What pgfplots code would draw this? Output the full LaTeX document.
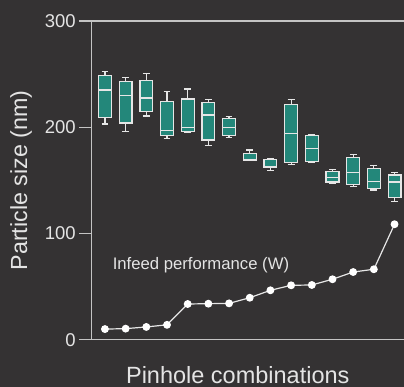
\documentclass[border=0pt]{standalone}
\usepackage{fontspec}
\setmainfont{Liberation Sans}
\usepackage{pgfplots}
\pgfplotsset{compat=1.18}
\usepgfplotslibrary{statistics}
\definecolor{bg}{HTML}{343233}
\definecolor{axc}{HTML}{C4C4C4}
\definecolor{txt}{HTML}{E4E4E4}
\definecolor{tealf}{HTML}{23877A}
\definecolor{boxl}{HTML}{E6E6E6}
\begin{document}
\begin{tikzpicture}
\fill[bg] (-91.3pt,-47.3pt) rectangle (312.7pt,339.7pt);
\useasboundingbox (-91.3pt,-47.3pt) rectangle (312.7pt,339.7pt);
\begin{axis}[
  scale only axis,
  width=320pt, height=318.7pt,
  xmin=0.34, xmax=15.81,
  ymin=0, ymax=300,
  ytick={0,100,200,300},
  xtick=\empty,
  tick align=outside,
  ytick pos=left,
  major tick length=12pt,
  axis line style={axc, line width=1.3pt},
  every tick/.style={axc, line width=1.3pt},
  /pgf/number format/assume math mode=true,
  yticklabel style={font=\fontsize{18.5}{20}\selectfont, text=txt},
  ylabel={Particle size (nm)},
  ylabel style={at={(axis description cs:0,0.5)}, anchor=center, yshift=70.3pt, font=\fontsize{23.3}{25}\selectfont, text=txt},
  xlabel={Pinhole combinations},
  xlabel style={at={(axis description cs:0.4578,0)}, anchor=base, yshift=-43.8pt, font=\fontsize{23.5}{25}\selectfont, text=txt},
  clip=false,
  boxplot/draw direction=y,
  every boxplot/.style={},
]
\pgfplotsset{mybox/.style={solid, draw=boxl, line width=1.2pt, fill=tealf, mark=none}}
\addplot+[mybox, boxplot prepared={draw position=1, lower whisker=203, lower quartile=209.5, median=235, upper quartile=249, upper whisker=252.5, box extend=0.62, whisker extend=0.33}] coordinates {};
\addplot+[mybox, boxplot prepared={draw position=2, lower whisker=196, lower quartile=204, median=230, upper quartile=243, upper whisker=247, box extend=0.62, whisker extend=0.33}] coordinates {};
\addplot+[mybox, boxplot prepared={draw position=3, lower whisker=210.5, lower quartile=215, median=227.5, upper quartile=244, upper whisker=250.5, box extend=0.62, whisker extend=0.33}] coordinates {};
\addplot+[mybox, boxplot prepared={draw position=4, lower whisker=189.5, lower quartile=192, median=197, upper quartile=224.5, upper whisker=234, box extend=0.62, whisker extend=0.33}] coordinates {};
\addplot+[mybox, boxplot prepared={draw position=5, lower whisker=195.5, lower quartile=196, median=199.5, upper quartile=226.5, upper whisker=236, box extend=0.62, whisker extend=0.33}] coordinates {};
\addplot+[mybox, boxplot prepared={draw position=6, lower whisker=183, lower quartile=188, median=211.5, upper quartile=223.5, upper whisker=226, box extend=0.62, whisker extend=0.33}] coordinates {};
\addplot+[mybox, boxplot prepared={draw position=7, lower whisker=190, lower quartile=192, median=200, upper quartile=208, upper whisker=210, box extend=0.62, whisker extend=0.33}] coordinates {};
\addplot+[mybox, boxplot prepared={draw position=8, lower whisker=168.5, lower quartile=169, median=169.5, upper quartile=175.5, upper whisker=178.5, box extend=0.62, whisker extend=0.33}] coordinates {};
\addplot+[mybox, boxplot prepared={draw position=9, lower whisker=159.5, lower quartile=162.5, median=163, upper quartile=169.5, upper whisker=170, box extend=0.62, whisker extend=0.33}] coordinates {};
\addplot+[mybox, boxplot prepared={draw position=10, lower whisker=165, lower quartile=167, median=194, upper quartile=221.5, upper whisker=226, box extend=0.62, whisker extend=0.33}] coordinates {};
\addplot+[mybox, boxplot prepared={draw position=11, lower whisker=167, lower quartile=168, median=180, upper quartile=192, upper whisker=193, box extend=0.62, whisker extend=0.33}] coordinates {};
\addplot+[mybox, boxplot prepared={draw position=12, lower whisker=147, lower quartile=148.5, median=153, upper quartile=158.5, upper whisker=160.5, box extend=0.62, whisker extend=0.33}] coordinates {};
\addplot+[mybox, boxplot prepared={draw position=13, lower whisker=144, lower quartile=146, median=157.5, upper quartile=171.5, upper whisker=174.5, box extend=0.62, whisker extend=0.33}] coordinates {};
\addplot+[mybox, boxplot prepared={draw position=14, lower whisker=141, lower quartile=142.5, median=149, upper quartile=161.5, upper whisker=164, box extend=0.62, whisker extend=0.33}] coordinates {};
\addplot+[mybox, boxplot prepared={draw position=15, lower whisker=130, lower quartile=134, median=148.5, upper quartile=155, upper whisker=157.5, box extend=0.62, whisker extend=0.33}] coordinates {};
\addplot[color=boxl, line width=1.2pt, mark=*, mark size=3.3pt, mark options={fill=white, draw=white}] coordinates {
(1,10) (2,10.4) (3,12) (4,14) (5,33.6) (6,33.9) (7,34.2) (8,39.5) (9,46.5) (10,51.2) (11,51.5) (12,56.9) (13,63.7) (14,66.3) (15,108.7)};
\node[text=txt, font=\fontsize{16.7}{18}\selectfont] at (axis cs:5.64,70.3) {Infeed performance (W)};
\end{axis}
\end{tikzpicture}
\end{document}
